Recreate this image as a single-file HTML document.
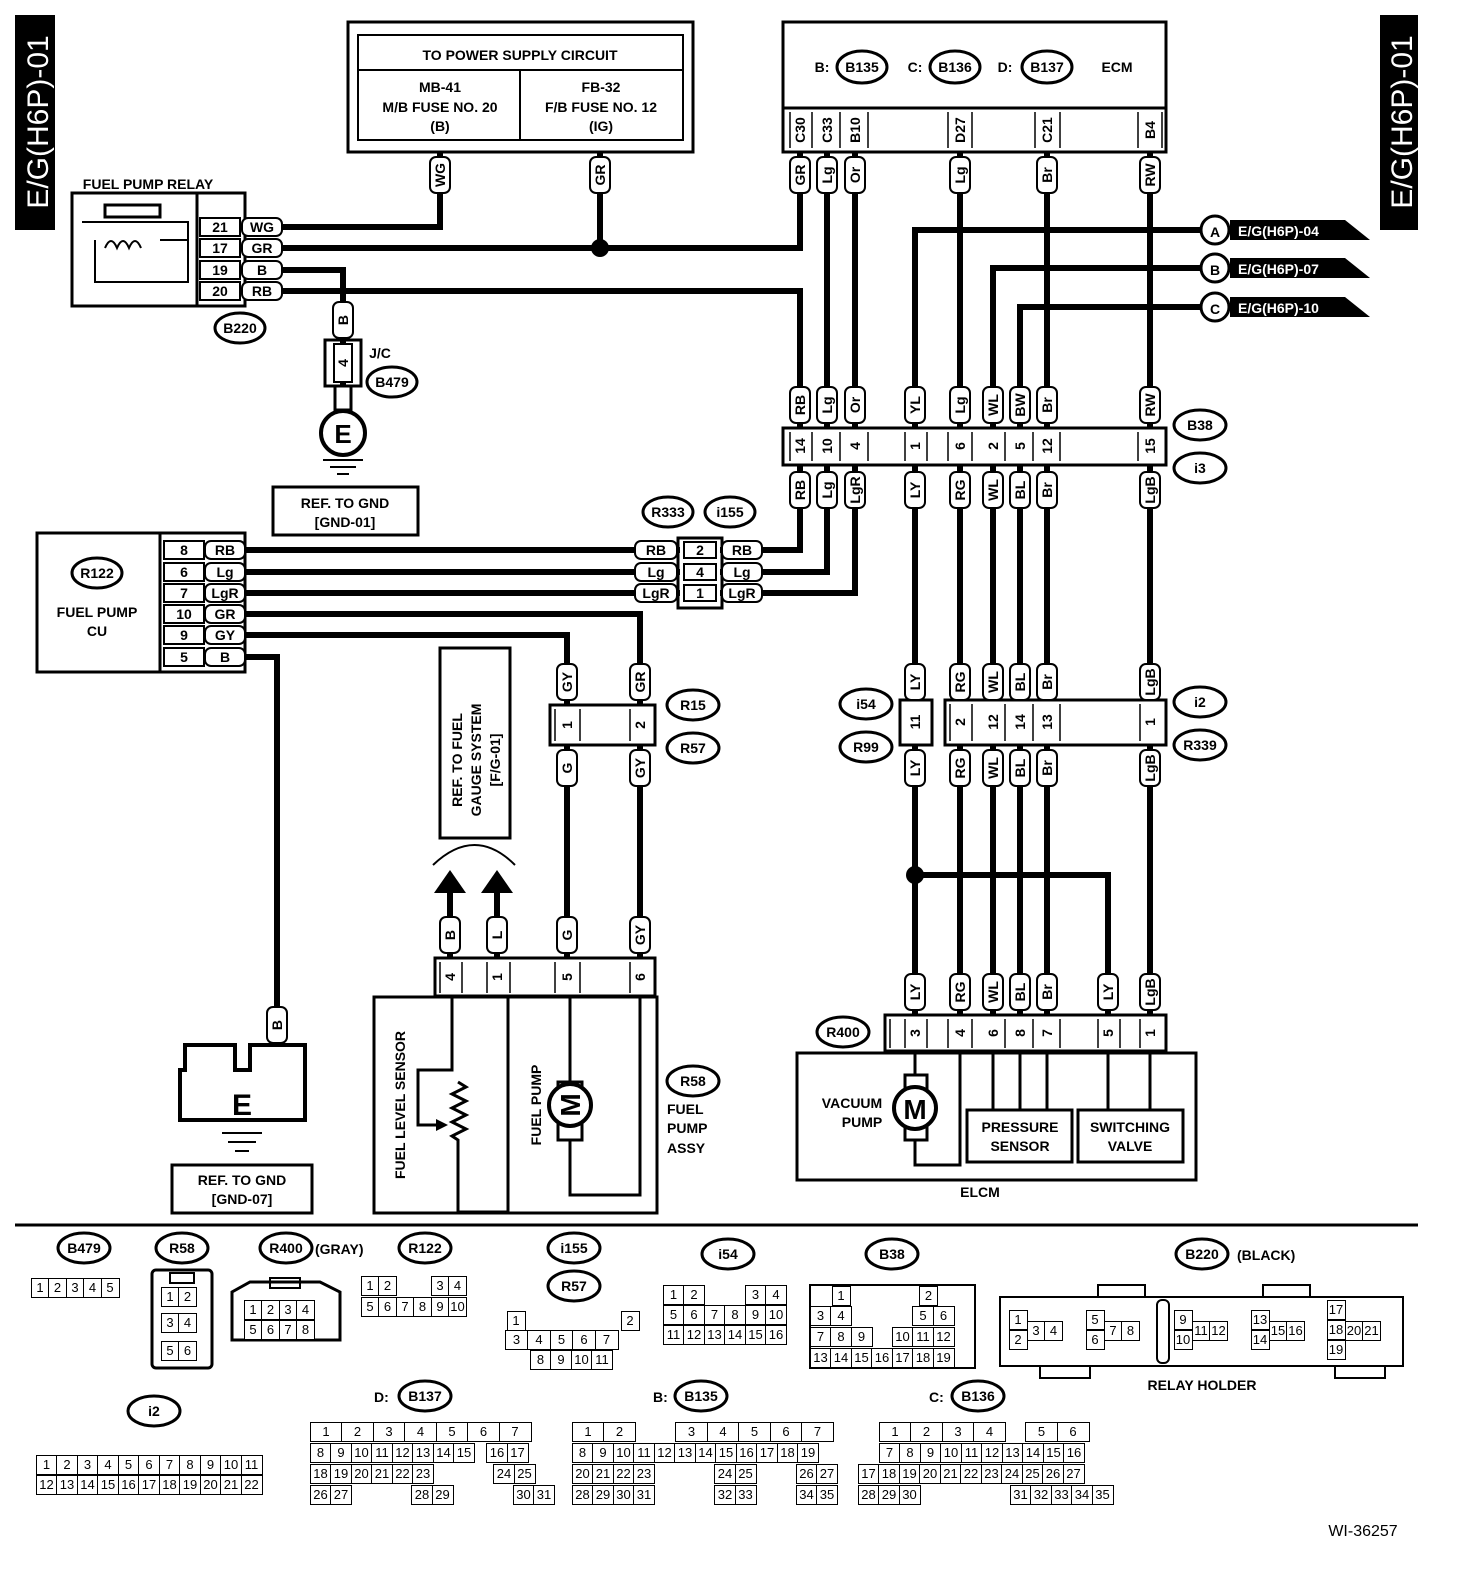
<!DOCTYPE html>
<html><head><meta charset="utf-8"><style>
html,body{margin:0;padding:0;background:#fff}
body{width:1472px;height:1596px;position:relative;overflow:hidden;font-family:"Liberation Sans",sans-serif;font-weight:bold}
svg{position:absolute;left:0;top:0}
svg text{font-family:"Liberation Sans",sans-serif;font-weight:bold;font-size:14px}
.g{position:absolute;display:flex;font-size:13px;font-weight:normal}
.g i{font-style:normal;display:block;width:17px;height:18px;line-height:18px;border:1.5px solid #000;margin-left:-1.5px;text-align:center;background:#fff}
.g i.e{border-color:transparent;background:transparent}
</style></head><body>
<svg width="1472" height="1596" viewBox="0 0 1472 1596">
<g fill="none" stroke="#000" stroke-width="6">
<path d="M245 227H440V152"/>
<path d="M245 248H800V152"/>
<path d="M600 248V152"/>
<path d="M245 270H343V400"/>
<path d="M245 291H800V428"/>
<path d="M827 152V428M855 152V428M960 152V428M1047 152V428M1150 152V428"/>
<path d="M915 428V230H1200M993 428V268H1200M1020 428V307H1200"/>
<path d="M800 465V550H720M827 465V572H720M855 465V593H720"/>
<path d="M245 550H680M245 572H680M245 593H680"/>
<path d="M245 614H640V705M245 635H567V705M245 657H277V1045"/>
<path d="M567 745V958M640 745V958"/>
<path d="M915 465V700M960 465V700M993 465V700M1020 465V700M1047 465V700M1150 465V700"/>
<path d="M915 745V1015M960 745V1015M993 745V1015M1020 745V1015M1047 745V1015M1150 745V1015"/>
<path d="M915 875H1108V1015"/>
<path d="M450 958V893M497 958V893"/>
</g>
<circle cx="600" cy="248" r="9"/><circle cx="915" cy="875" r="9"/>
<polygon points="434,893 466,893 450,870"/><polygon points="481,893 513,893 497,870"/>
<path d="M433 865Q475 825 515 865" fill="none" stroke="#000" stroke-width="2"/>
<rect x="15" y="15" width="40" height="215" fill="#000"/>
<text transform="translate(48,122) rotate(-90)" fill="#fff" text-anchor="middle" style="font-size:30px;font-weight:normal">E/G(H6P)-01</text>
<rect x="1380" y="15" width="38" height="215" fill="#000"/>
<text transform="translate(1412,122) rotate(-90)" fill="#fff" text-anchor="middle" style="font-size:30px;font-weight:normal">E/G(H6P)-01</text>
<g fill="none" stroke="#000" stroke-width="3">
<rect x="348" y="22" width="345" height="130"/><rect x="358" y="35" width="325" height="105" stroke-width="2"/>
<path d="M358 70H683M520 70V140" stroke-width="2"/>
<rect x="783" y="22" width="383" height="86"/><rect x="783" y="108" width="383" height="44"/>
<rect x="72" y="193" width="173" height="113"/><path d="M197 193V306"/>
<rect x="37" y="533" width="208" height="139"/><path d="M160 533V672"/>
<rect x="783" y="428" width="383" height="37"/>
<rect x="678" y="538" width="44" height="70"/>
<rect x="550" y="705" width="105" height="40"/>
<rect x="900" y="700" width="32" height="45"/><rect x="945" y="700" width="221" height="45"/>
<rect x="435" y="958" width="220" height="38"/><rect x="374" y="997" width="283" height="216"/>
<rect x="885" y="1015" width="281" height="36"/><rect x="797" y="1053" width="399" height="127"/>
<rect x="325" y="340" width="36" height="46"/>
</g>
<rect x="334" y="344" width="18" height="38" fill="#fff" stroke="#000" stroke-width="2"/>
<path d="M15 1225H1418" stroke="#000" stroke-width="3"/>
<g text-anchor="middle">
<text x="520" y="60">TO POWER SUPPLY CIRCUIT</text>
<text x="440" y="92">MB-41</text><text x="440" y="112">M/B FUSE NO. 20</text><text x="440" y="131">(B)</text>
<text x="601" y="92">FB-32</text><text x="601" y="112">F/B FUSE NO. 12</text><text x="601" y="131">(IG)</text>
<text x="822" y="72">B:</text><text x="915" y="72">C:</text><text x="1005" y="72">D:</text><text x="1117" y="72">ECM</text>
<text x="148" y="189">FUEL PUMP RELAY</text>
<text x="97" y="617">FUEL PUMP</text><text x="97" y="636">CU</text>
<text x="380" y="358">J/C</text>
<text x="345" y="508">REF. TO GND</text><text x="345" y="527">[GND-01]</text>
<text x="242" y="1185">REF. TO GND</text><text x="242" y="1204">[GND-07]</text>
<text x="980" y="1197">ELCM</text>
<text x="852" y="1108">VACUUM</text><text x="862" y="1127">PUMP</text>
<text x="1020" y="1132">PRESSURE</text><text x="1020" y="1151">SENSOR</text>
<text x="1130" y="1132">SWITCHING</text><text x="1130" y="1151">VALVE</text>
<text x="1202" y="1390">RELAY HOLDER</text>
<text x="1363" y="1536" style="font-weight:normal;font-size:16px">WI-36257</text>
</g>
<g style="font-size:14px"><text x="667" y="1114">FUEL</text><text x="667" y="1133">PUMP</text><text x="667" y="1153">ASSY</text></g>
<rect x="273" y="487" width="145" height="48" fill="none" stroke="#000" stroke-width="3"/>
<rect x="172" y="1165" width="140" height="48" fill="none" stroke="#000" stroke-width="3"/>
<rect x="440" y="648" width="70" height="190" fill="none" stroke="#000" stroke-width="3"/>
<g text-anchor="middle"><text transform="translate(462,760) rotate(-90)">REF. TO FUEL</text><text transform="translate(481,760) rotate(-90)">GAUGE SYSTEM</text><text transform="translate(500,760) rotate(-90)">[F/G-01]</text></g>
<g fill="none" stroke="#000" stroke-width="2">
<rect x="105" y="205" width="55" height="12" stroke-width="3"/><path d="M82 222H188V282H95V240M188 240H160M105 248q6-14 12 0q6-14 12 0q6-14 12 0"/>
</g>
<g><circle cx="1215" cy="230" r="14" fill="#fff" stroke="#000" stroke-width="3"/><polygon points="1230,220 1345,220 1370,240 1230,240" fill="#000"/>
<circle cx="1215" cy="268" r="14" fill="#fff" stroke="#000" stroke-width="3"/><polygon points="1230,258 1345,258 1370,278 1230,278" fill="#000"/>
<circle cx="1215" cy="307" r="14" fill="#fff" stroke="#000" stroke-width="3"/><polygon points="1230,297 1345,297 1370,317 1230,317" fill="#000"/></g>
<g text-anchor="middle" style="font-size:20px"><text x="1215" y="237">A</text><text x="1215" y="275">B</text><text x="1215" y="314">C</text></g>
<g fill="#fff" style="font-size:15px;font-weight:normal"><text x="1238" y="236">E/G(H6P)-04</text><text x="1238" y="274">E/G(H6P)-07</text><text x="1238" y="313">E/G(H6P)-10</text></g>
<circle cx="343" cy="433" r="22" fill="#fff" stroke="#000" stroke-width="4"/><text x="343" y="443" text-anchor="middle" style="font-size:26px">E</text>
<rect x="335" y="386" width="16" height="24" fill="#fff" stroke="#000" stroke-width="3"/>
<path d="M323 460H363M330 467H356M337 474H349" stroke="#000" stroke-width="2"/>
<path d="M185 1070V1045H235V1070H250V1045H305V1120H180V1070Z" fill="#fff" stroke="#000" stroke-width="4"/>
<text x="242" y="1115" text-anchor="middle" style="font-size:30px">E</text>
<path d="M222 1133H262M228 1142H256M235 1151H249" stroke="#000" stroke-width="2"/>
<g fill="none" stroke="#000" stroke-width="3">
<path d="M452 997V1070H418V1125H438"/><path d="M458 1082l8 5-14 7 14 7-14 7 14 7-14 7 14 7-14 7 6 4V1212H508V997"/>
<path d="M570 997V1082M570 1140V1195H640V997"/><rect x="558" y="1082" width="24" height="58"/>
</g>
<polygon points="436,1119 448,1125 436,1131"/>
<circle cx="570" cy="1105" r="21" fill="#fff" stroke="#000" stroke-width="4"/><text x="570" y="1115" text-anchor="middle" transform="rotate(-90 570 1105)" style="font-size:28px">M</text>
<text transform="translate(405,1105) rotate(-90)" text-anchor="middle">FUEL LEVEL SENSOR</text>
<text transform="translate(541,1105) rotate(-90)" text-anchor="middle">FUEL PUMP</text>
<g fill="none" stroke="#000" stroke-width="3">
<path d="M915 1051V1075M915 1140V1165H960V1051"/><rect x="905" y="1075" width="22" height="65"/>
<path d="M993 1051V1110M1020 1051V1110M1047 1051V1110M1108 1051V1110M1150 1051V1110"/>
<rect x="967" y="1110" width="105" height="52"/><rect x="1078" y="1110" width="105" height="52"/>
</g>
<circle cx="915" cy="1108" r="21" fill="#fff" stroke="#000" stroke-width="4"/><text x="915" y="1119" text-anchor="middle" style="font-size:28px">M</text>
<g fill="#fff" stroke="#000" stroke-width="2">
<rect x="430" y="157" width="20" height="36" rx="6"/><rect x="590" y="157" width="20" height="36" rx="6"/>
<rect x="790" y="157" width="20" height="36" rx="6"/><rect x="817" y="157" width="20" height="36" rx="6"/><rect x="845" y="157" width="20" height="36" rx="6"/><rect x="950" y="157" width="20" height="36" rx="6"/><rect x="1037" y="157" width="20" height="36" rx="6"/><rect x="1140" y="157" width="20" height="36" rx="6"/>
<rect x="333" y="302" width="20" height="36" rx="6"/>
<rect x="790" y="387" width="20" height="36" rx="6"/><rect x="817" y="387" width="20" height="36" rx="6"/><rect x="845" y="387" width="20" height="36" rx="6"/><rect x="905" y="387" width="20" height="36" rx="6"/><rect x="950" y="387" width="20" height="36" rx="6"/><rect x="983" y="387" width="20" height="36" rx="6"/><rect x="1010" y="387" width="20" height="36" rx="6"/><rect x="1037" y="387" width="20" height="36" rx="6"/><rect x="1140" y="387" width="20" height="36" rx="6"/>
<rect x="790" y="472" width="20" height="36" rx="6"/><rect x="817" y="472" width="20" height="36" rx="6"/><rect x="845" y="472" width="20" height="36" rx="6"/><rect x="905" y="472" width="20" height="36" rx="6"/><rect x="950" y="472" width="20" height="36" rx="6"/><rect x="983" y="472" width="20" height="36" rx="6"/><rect x="1010" y="472" width="20" height="36" rx="6"/><rect x="1037" y="472" width="20" height="36" rx="6"/><rect x="1140" y="472" width="20" height="36" rx="6"/>
<rect x="557" y="664" width="20" height="36" rx="6"/><rect x="630" y="664" width="20" height="36" rx="6"/><rect x="905" y="664" width="20" height="36" rx="6"/><rect x="950" y="664" width="20" height="36" rx="6"/><rect x="983" y="664" width="20" height="36" rx="6"/><rect x="1010" y="664" width="20" height="36" rx="6"/><rect x="1037" y="664" width="20" height="36" rx="6"/><rect x="1140" y="664" width="20" height="36" rx="6"/>
<rect x="557" y="750" width="20" height="36" rx="6"/><rect x="630" y="750" width="20" height="36" rx="6"/><rect x="905" y="750" width="20" height="36" rx="6"/><rect x="950" y="750" width="20" height="36" rx="6"/><rect x="983" y="750" width="20" height="36" rx="6"/><rect x="1010" y="750" width="20" height="36" rx="6"/><rect x="1037" y="750" width="20" height="36" rx="6"/><rect x="1140" y="750" width="20" height="36" rx="6"/>
<rect x="440" y="917" width="20" height="36" rx="6"/><rect x="487" y="917" width="20" height="36" rx="6"/><rect x="557" y="917" width="20" height="36" rx="6"/><rect x="630" y="917" width="20" height="36" rx="6"/>
<rect x="905" y="974" width="20" height="36" rx="6"/><rect x="950" y="974" width="20" height="36" rx="6"/><rect x="983" y="974" width="20" height="36" rx="6"/><rect x="1010" y="974" width="20" height="36" rx="6"/><rect x="1037" y="974" width="20" height="36" rx="6"/><rect x="1098" y="974" width="20" height="36" rx="6"/><rect x="1140" y="974" width="20" height="36" rx="6"/>
<rect x="267" y="1007" width="20" height="36" rx="6"/>
</g>
<g text-anchor="middle" style="font-size:13px">
<text transform="translate(445,175) rotate(-90)">WG</text><text transform="translate(605,175) rotate(-90)">GR</text>
<text transform="translate(805,175) rotate(-90)">GR</text><text transform="translate(832,175) rotate(-90)">Lg</text><text transform="translate(860,175) rotate(-90)">Or</text><text transform="translate(965,175) rotate(-90)">Lg</text><text transform="translate(1052,175) rotate(-90)">Br</text><text transform="translate(1155,175) rotate(-90)">RW</text>
<text transform="translate(348,320) rotate(-90)">B</text>
<text transform="translate(805,405) rotate(-90)">RB</text><text transform="translate(832,405) rotate(-90)">Lg</text><text transform="translate(860,405) rotate(-90)">Or</text><text transform="translate(920,405) rotate(-90)">YL</text><text transform="translate(965,405) rotate(-90)">Lg</text><text transform="translate(998,405) rotate(-90)">WL</text><text transform="translate(1025,405) rotate(-90)">BW</text><text transform="translate(1052,405) rotate(-90)">Br</text><text transform="translate(1155,405) rotate(-90)">RW</text>
<text transform="translate(805,490) rotate(-90)">RB</text><text transform="translate(832,490) rotate(-90)">Lg</text><text transform="translate(860,490) rotate(-90)">LgR</text><text transform="translate(920,490) rotate(-90)">LY</text><text transform="translate(965,490) rotate(-90)">RG</text><text transform="translate(998,490) rotate(-90)">WL</text><text transform="translate(1025,490) rotate(-90)">BL</text><text transform="translate(1052,490) rotate(-90)">Br</text><text transform="translate(1155,490) rotate(-90)">LgB</text>
<text transform="translate(572,682) rotate(-90)">GY</text><text transform="translate(645,682) rotate(-90)">GR</text><text transform="translate(920,682) rotate(-90)">LY</text><text transform="translate(965,682) rotate(-90)">RG</text><text transform="translate(998,682) rotate(-90)">WL</text><text transform="translate(1025,682) rotate(-90)">BL</text><text transform="translate(1052,682) rotate(-90)">Br</text><text transform="translate(1155,682) rotate(-90)">LgB</text>
<text transform="translate(572,768) rotate(-90)">G</text><text transform="translate(645,768) rotate(-90)">GY</text><text transform="translate(920,768) rotate(-90)">LY</text><text transform="translate(965,768) rotate(-90)">RG</text><text transform="translate(998,768) rotate(-90)">WL</text><text transform="translate(1025,768) rotate(-90)">BL</text><text transform="translate(1052,768) rotate(-90)">Br</text><text transform="translate(1155,768) rotate(-90)">LgB</text>
<text transform="translate(455,935) rotate(-90)">B</text><text transform="translate(502,935) rotate(-90)">L</text><text transform="translate(572,935) rotate(-90)">G</text><text transform="translate(645,935) rotate(-90)">GY</text>
<text transform="translate(920,992) rotate(-90)">LY</text><text transform="translate(965,992) rotate(-90)">RG</text><text transform="translate(998,992) rotate(-90)">WL</text><text transform="translate(1025,992) rotate(-90)">BL</text><text transform="translate(1052,992) rotate(-90)">Br</text><text transform="translate(1113,992) rotate(-90)">LY</text><text transform="translate(1155,992) rotate(-90)">LgB</text>
<text transform="translate(282,1025) rotate(-90)">B</text>
<text transform="translate(805,130) rotate(-90)">C30</text><text transform="translate(832,130) rotate(-90)">C33</text><text transform="translate(860,130) rotate(-90)">B10</text><text transform="translate(965,130) rotate(-90)">D27</text><text transform="translate(1052,130) rotate(-90)">C21</text><text transform="translate(1155,130) rotate(-90)">B4</text>
<text transform="translate(348,363) rotate(-90)">4</text>
<text transform="translate(805,446) rotate(-90)">14</text><text transform="translate(832,446) rotate(-90)">10</text><text transform="translate(860,446) rotate(-90)">4</text><text transform="translate(920,446) rotate(-90)">1</text><text transform="translate(965,446) rotate(-90)">6</text><text transform="translate(998,446) rotate(-90)">2</text><text transform="translate(1025,446) rotate(-90)">5</text><text transform="translate(1052,446) rotate(-90)">12</text><text transform="translate(1155,446) rotate(-90)">15</text>
<text transform="translate(572,725) rotate(-90)">1</text><text transform="translate(645,725) rotate(-90)">2</text><text transform="translate(920,722) rotate(-90)">11</text><text transform="translate(965,722) rotate(-90)">2</text><text transform="translate(998,722) rotate(-90)">12</text><text transform="translate(1025,722) rotate(-90)">14</text><text transform="translate(1052,722) rotate(-90)">13</text><text transform="translate(1155,722) rotate(-90)">1</text>
<text transform="translate(455,977) rotate(-90)">4</text><text transform="translate(502,977) rotate(-90)">1</text><text transform="translate(572,977) rotate(-90)">5</text><text transform="translate(645,977) rotate(-90)">6</text>
<text transform="translate(920,1033) rotate(-90)">3</text><text transform="translate(965,1033) rotate(-90)">4</text><text transform="translate(998,1033) rotate(-90)">6</text><text transform="translate(1025,1033) rotate(-90)">8</text><text transform="translate(1052,1033) rotate(-90)">7</text><text transform="translate(1113,1033) rotate(-90)">5</text><text transform="translate(1155,1033) rotate(-90)">1</text>
</g>
<g fill="none" stroke="#000" stroke-width="1.5">
<path d="M790 112V148M812 112V148M840 112V148M868 112V148M948 112V148M972 112V148M1035 112V148M1060 112V148M1138 112V148M1162 112V148"/>
<path d="M790 432V461M812 432V461M840 432V461M868 432V461M905 432V461M927 432V461M948 432V461M972 432V461M1005 432V461M1033 432V461M1060 432V461M1138 432V461"/>
<path d="M440 962V993M462 962V993M487 962V993M510 962V993M555 962V993M580 962V993M630 962V993"/>
<path d="M890 1019V1048M905 1019V1048M927 1019V1048M948 1019V1048M972 1019V1048M1005 1019V1048M1033 1019V1048M1060 1019V1048M1098 1019V1048M1120 1019V1048M1140 1019V1048"/>
<path d="M555 709V741M580 709V741M630 709V741"/>
<path d="M950 704V741M972 704V741M1005 704V741M1033 704V741M1060 704V741M1140 704V741"/>
</g>
<g fill="#fff" stroke="#000" stroke-width="2">
<rect x="200" y="218" width="40" height="18"/><rect x="200" y="239" width="40" height="18"/><rect x="200" y="261" width="40" height="18"/><rect x="200" y="282" width="40" height="18"/>
<rect x="242" y="218" width="40" height="18" rx="6"/><rect x="242" y="239" width="40" height="18" rx="6"/><rect x="242" y="261" width="40" height="18" rx="6"/><rect x="242" y="282" width="40" height="18" rx="6"/>
<rect x="164" y="541" width="40" height="18"/><rect x="164" y="563" width="40" height="18"/><rect x="164" y="584" width="40" height="18"/><rect x="164" y="605" width="40" height="18"/><rect x="164" y="626" width="40" height="18"/><rect x="164" y="648" width="40" height="18"/>
<rect x="205" y="541" width="40" height="18" rx="6"/><rect x="205" y="563" width="40" height="18" rx="6"/><rect x="205" y="584" width="40" height="18" rx="6"/><rect x="205" y="605" width="40" height="18" rx="6"/><rect x="205" y="626" width="40" height="18" rx="6"/><rect x="205" y="648" width="40" height="18" rx="6"/>
<rect x="635" y="541" width="42" height="18" rx="6"/><rect x="635" y="563" width="42" height="18" rx="6"/><rect x="635" y="584" width="42" height="18" rx="6"/>
<rect x="722" y="541" width="40" height="18" rx="6"/><rect x="722" y="563" width="40" height="18" rx="6"/><rect x="722" y="584" width="40" height="18" rx="6"/>
<rect x="684" y="542" width="32" height="16"/><rect x="684" y="564" width="32" height="16"/><rect x="684" y="585" width="32" height="16"/>
</g>
<g text-anchor="middle" style="font-size:14px">
<text x="220" y="232">21</text><text x="220" y="253">17</text><text x="220" y="275">19</text><text x="220" y="296">20</text>
<text x="262" y="232">WG</text><text x="262" y="253">GR</text><text x="262" y="275">B</text><text x="262" y="296">RB</text>
<text x="184" y="555">8</text><text x="184" y="577">6</text><text x="184" y="598">7</text><text x="184" y="619">10</text><text x="184" y="640">9</text><text x="184" y="662">5</text>
<text x="225" y="555">RB</text><text x="225" y="577">Lg</text><text x="225" y="598">LgR</text><text x="225" y="619">GR</text><text x="225" y="640">GY</text><text x="225" y="662">B</text>
<text x="656" y="555">RB</text><text x="656" y="577">Lg</text><text x="656" y="598">LgR</text>
<text x="742" y="555">RB</text><text x="742" y="577">Lg</text><text x="742" y="598">LgR</text>
<text x="700" y="555">2</text><text x="700" y="577">4</text><text x="700" y="598">1</text>
</g>
<g fill="#fff" stroke="#000" stroke-width="3">
<ellipse cx="862" cy="67" rx="25" ry="16"/><ellipse cx="955" cy="67" rx="25" ry="16"/><ellipse cx="1047" cy="67" rx="25" ry="16"/>
<ellipse cx="240" cy="328" rx="25" ry="15"/><ellipse cx="392" cy="382" rx="25" ry="15"/>
<ellipse cx="668" cy="512" rx="25" ry="15"/><ellipse cx="730" cy="512" rx="25" ry="15"/>
<ellipse cx="97" cy="573" rx="25" ry="15"/>
<ellipse cx="1200" cy="425" rx="26" ry="15"/><ellipse cx="1200" cy="468" rx="26" ry="15"/>
<ellipse cx="693" cy="705" rx="26" ry="15"/><ellipse cx="693" cy="748" rx="26" ry="15"/>
<ellipse cx="866" cy="704" rx="26" ry="15"/><ellipse cx="866" cy="747" rx="26" ry="15"/>
<ellipse cx="1200" cy="702" rx="26" ry="15"/><ellipse cx="1200" cy="745" rx="26" ry="15"/>
<ellipse cx="693" cy="1081" rx="26" ry="15"/><ellipse cx="843" cy="1032" rx="26" ry="15"/>
<ellipse cx="84" cy="1248" rx="26" ry="15"/><ellipse cx="182" cy="1248" rx="26" ry="15"/><ellipse cx="286" cy="1248" rx="26" ry="15"/><ellipse cx="425" cy="1248" rx="26" ry="15"/>
<ellipse cx="574" cy="1248" rx="26" ry="15"/><ellipse cx="574" cy="1286" rx="26" ry="15"/><ellipse cx="728" cy="1254" rx="26" ry="15"/><ellipse cx="892" cy="1254" rx="26" ry="15"/><ellipse cx="1202" cy="1254" rx="26" ry="15"/>
<ellipse cx="154" cy="1411" rx="26" ry="15"/><ellipse cx="425" cy="1396" rx="26" ry="15"/><ellipse cx="701" cy="1396" rx="26" ry="15"/><ellipse cx="978" cy="1396" rx="26" ry="15"/>
</g>
<g text-anchor="middle" style="font-size:13px">
<text x="862" y="72">B135</text><text x="955" y="72">B136</text><text x="1047" y="72">B137</text>
<text x="240" y="333">B220</text><text x="392" y="387">B479</text><text x="668" y="517">R333</text><text x="730" y="517">i155</text><text x="97" y="578">R122</text>
<text x="1200" y="430">B38</text><text x="1200" y="473">i3</text><text x="693" y="710">R15</text><text x="693" y="753">R57</text><text x="866" y="709">i54</text><text x="866" y="752">R99</text><text x="1200" y="707">i2</text><text x="1200" y="750">R339</text>
<text x="693" y="1086">R58</text><text x="843" y="1037">R400</text>
<text x="84" y="1253">B479</text><text x="182" y="1253">R58</text><text x="286" y="1253">R400</text><text x="425" y="1253">R122</text><text x="574" y="1253">i155</text><text x="574" y="1291">R57</text><text x="728" y="1259">i54</text><text x="892" y="1259">B38</text><text x="1202" y="1259">B220</text>
<text x="154" y="1416">i2</text><text x="425" y="1401">B137</text><text x="701" y="1401">B135</text><text x="978" y="1401">B136</text>
</g>
<g style="font-size:14px"><text x="315" y="1254">(GRAY)</text><text x="1237" y="1260">(BLACK)</text><text x="374" y="1402">D:</text><text x="653" y="1402">B:</text><text x="929" y="1402">C:</text></g>
<g fill="none" stroke="#000" stroke-width="2">
<rect x="152" y="1270" width="60" height="98" rx="4" stroke-width="3"/><rect x="170" y="1273" width="24" height="10"/>
<path d="M232 1292V1340H340V1292L320 1282H250Z" stroke-width="3"/><rect x="270" y="1278" width="30" height="10"/>
<rect x="1000" y="1297" width="403" height="69"/><rect x="1157" y="1300" width="12" height="63" rx="5"/>
<path d="M1098 1297V1285H1145V1297M1263 1297V1285H1310V1297M1040 1366V1378H1090V1366M1335 1366V1378H1385V1366"/>
<rect x="810" y="1285" width="165" height="83"/>
</g>
</svg>
<div class="g" style="left:32px;top:1278px"><i>1</i><i>2</i><i>3</i><i>4</i><i>5</i></div>
<div class="g" style="left:162px;top:1287px"><i>1</i><i>2</i></div><div class="g" style="left:162px;top:1313px"><i>3</i><i>4</i></div><div class="g" style="left:162px;top:1341px"><i>5</i><i>6</i></div>
<div class="g" style="left:245px;top:1300px"><i>1</i><i>2</i><i>3</i><i>4</i></div><div class="g" style="left:245px;top:1320px"><i>5</i><i>6</i><i>7</i><i>8</i></div>
<div class="g" style="left:362px;top:1276px"><i>1</i><i>2</i><i class="e"></i><i class="e"></i><i>3</i><i>4</i></div><div class="g" style="left:362px;top:1297px"><i>5</i><i>6</i><i>7</i><i>8</i><i>9</i><i>10</i></div>
<div class="g" style="left:508px;top:1311px"><i>1</i></div><div class="g" style="left:622px;top:1311px"><i>2</i></div>
<div class="g" style="left:506px;top:1330px"><i style="width:22px">3</i><i style="width:22px">4</i><i style="width:22px">5</i><i style="width:22px">6</i><i style="width:22px">7</i></div>
<div class="g" style="left:531px;top:1350px"><i style="width:20px">8</i><i style="width:20px">9</i><i style="width:20px">10</i><i style="width:20px">11</i></div>
<div class="g" style="left:664px;top:1285px"><i style="width:20px">1</i><i style="width:20px">2</i><i class="e" style="width:20px"></i><i class="e" style="width:20px"></i><i style="width:20px">3</i><i style="width:20px">4</i></div>
<div class="g" style="left:664px;top:1305px"><i style="width:20px">5</i><i style="width:20px">6</i><i style="width:20px">7</i><i style="width:20px">8</i><i style="width:20px">9</i><i style="width:20px">10</i></div>
<div class="g" style="left:664px;top:1325px"><i style="width:20px">11</i><i style="width:20px">12</i><i style="width:20px">13</i><i style="width:20px">14</i><i style="width:20px">15</i><i style="width:20px">16</i></div>
<div class="g" style="left:833px;top:1286px"><i>1</i><i class="e"></i><i class="e"></i><i class="e"></i><i class="e"></i><i>2</i></div>
<div class="g" style="left:811px;top:1306px"><i style="width:20px">3</i><i style="width:20px">4</i><i class="e" style="width:20px"></i><i class="e" style="width:20px"></i><i class="e" style="width:20px"></i><i style="width:20px">5</i><i style="width:20px">6</i></div>
<div class="g" style="left:811px;top:1327px"><i style="width:20px">7</i><i style="width:20px">8</i><i style="width:20px">9</i><i class="e" style="width:20px"></i><i style="width:20px">10</i><i style="width:20px">11</i><i style="width:20px">12</i></div>
<div class="g" style="left:811px;top:1348px"><i style="width:20px">13</i><i style="width:20px">14</i><i style="width:20px">15</i><i style="width:20px">16</i><i style="width:20px">17</i><i style="width:20px">18</i><i style="width:20px">19</i></div>
<div class="g" style="left:1010px;top:1310px;flex-direction:column"><i>1</i><i>2</i></div><div class="g" style="left:1028px;top:1321px"><i>3</i><i>4</i></div>
<div class="g" style="left:1087px;top:1310px;flex-direction:column"><i>5</i><i>6</i></div><div class="g" style="left:1105px;top:1321px"><i>7</i><i>8</i></div>
<div class="g" style="left:1175px;top:1310px;flex-direction:column"><i>9</i><i>10</i></div><div class="g" style="left:1193px;top:1321px"><i>11</i><i>12</i></div>
<div class="g" style="left:1252px;top:1310px;flex-direction:column"><i>13</i><i>14</i></div><div class="g" style="left:1270px;top:1321px"><i>15</i><i>16</i></div>
<div class="g" style="left:1328px;top:1300px;flex-direction:column"><i>17</i><i>18</i><i>19</i></div><div class="g" style="left:1346px;top:1321px"><i>20</i><i>21</i></div>
<div class="g" style="left:37px;top:1455px"><i style="width:20px">1</i><i style="width:20px">2</i><i style="width:20px">3</i><i style="width:20px">4</i><i style="width:20px">5</i><i style="width:20px">6</i><i style="width:20px">7</i><i style="width:20px">8</i><i style="width:20px">9</i><i style="width:20px">10</i><i style="width:20px">11</i></div>
<div class="g" style="left:37px;top:1475px"><i style="width:20px">12</i><i style="width:20px">13</i><i style="width:20px">14</i><i style="width:20px">15</i><i style="width:20px">16</i><i style="width:20px">17</i><i style="width:20px">18</i><i style="width:20px">19</i><i style="width:20px">20</i><i style="width:20px">21</i><i style="width:20px">22</i></div>
<div class="g" style="left:311px;top:1422px"><i style="width:31px">1</i><i style="width:31px">2</i><i style="width:31px">3</i><i style="width:31px">4</i><i style="width:31px">5</i><i style="width:31px">6</i><i style="width:31px">7</i></div>
<div class="g" style="left:311px;top:1443px"><i style="width:20px">8</i><i style="width:20px">9</i><i style="width:20px">10</i><i style="width:20px">11</i><i style="width:20px">12</i><i style="width:20px">13</i><i style="width:20px">14</i><i style="width:20px">15</i><i class="e" style="width:12px"></i><i style="width:20px">16</i><i style="width:20px">17</i></div>
<div class="g" style="left:311px;top:1464px"><i style="width:20px">18</i><i style="width:20px">19</i><i style="width:20px">20</i><i style="width:20px">21</i><i style="width:20px">22</i><i style="width:20px">23</i><i class="e" style="width:60px"></i><i style="width:20px">24</i><i style="width:20px">25</i></div>
<div class="g" style="left:311px;top:1485px"><i style="width:20px">26</i><i style="width:20px">27</i><i class="e" style="width:60px"></i><i style="width:20px">28</i><i style="width:20px">29</i><i class="e" style="width:60px"></i><i style="width:20px">30</i><i style="width:20px">31</i></div>
<div class="g" style="left:573px;top:1422px"><i style="width:31px">1</i><i style="width:31px">2</i><i class="e" style="width:40px"></i><i style="width:31px">3</i><i style="width:31px">4</i><i style="width:31px">5</i><i style="width:31px">6</i><i style="width:31px">7</i></div>
<div class="g" style="left:573px;top:1443px"><i style="width:20px">8</i><i style="width:20px">9</i><i style="width:20px">10</i><i style="width:20px">11</i><i style="width:20px">12</i><i style="width:20px">13</i><i style="width:20px">14</i><i style="width:20px">15</i><i style="width:20px">16</i><i style="width:20px">17</i><i style="width:20px">18</i><i style="width:20px">19</i></div>
<div class="g" style="left:573px;top:1464px"><i style="width:20px">20</i><i style="width:20px">21</i><i style="width:20px">22</i><i style="width:20px">23</i><i class="e" style="width:60px"></i><i style="width:20px">24</i><i style="width:20px">25</i><i class="e" style="width:40px"></i><i style="width:20px">26</i><i style="width:20px">27</i></div>
<div class="g" style="left:573px;top:1485px"><i style="width:20px">28</i><i style="width:20px">29</i><i style="width:20px">30</i><i style="width:20px">31</i><i class="e" style="width:60px"></i><i style="width:20px">32</i><i style="width:20px">33</i><i class="e" style="width:40px"></i><i style="width:20px">34</i><i style="width:20px">35</i></div>
<div class="g" style="left:880px;top:1422px"><i style="width:31px">1</i><i style="width:31px">2</i><i style="width:31px">3</i><i style="width:31px">4</i><i class="e" style="width:20px"></i><i style="width:31px">5</i><i style="width:31px">6</i></div>
<div class="g" style="left:880px;top:1443px"><i style="width:20px">7</i><i style="width:20px">8</i><i style="width:20px">9</i><i style="width:20px">10</i><i style="width:20px">11</i><i style="width:20px">12</i><i style="width:20px">13</i><i style="width:20px">14</i><i style="width:20px">15</i><i style="width:20px">16</i></div>
<div class="g" style="left:859px;top:1464px"><i style="width:20px">17</i><i style="width:20px">18</i><i style="width:20px">19</i><i style="width:20px">20</i><i style="width:20px">21</i><i style="width:20px">22</i><i style="width:20px">23</i><i style="width:20px">24</i><i style="width:20px">25</i><i style="width:20px">26</i><i style="width:20px">27</i></div>
<div class="g" style="left:859px;top:1485px"><i style="width:20px">28</i><i style="width:20px">29</i><i style="width:20px">30</i><i class="e" style="width:90px"></i><i style="width:20px">31</i><i style="width:20px">32</i><i style="width:20px">33</i><i style="width:20px">34</i><i style="width:20px">35</i></div>
</body></html>
